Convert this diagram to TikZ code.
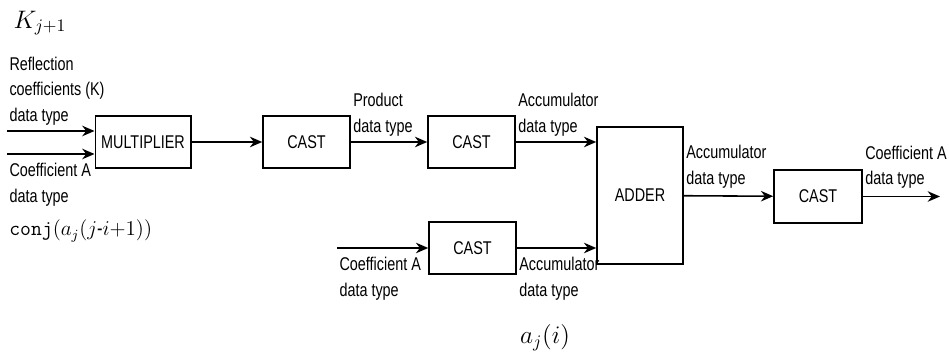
\documentclass[tikz,border=0pt]{standalone}
\usepackage{amsmath}
\usepackage[no-math]{fontspec}
\setmainfont{Liberation Sans}[FakeStretch=0.78]
\usetikzlibrary{arrows.meta}

\begin{document}
\begin{tikzpicture}[
    blk/.style={draw, line width=0.9pt, minimum width=1.74cm, minimum height=1.04cm, font=\fontsize{10.5}{14.5}\selectfont},
    lbl/.style={align=left, inner sep=1pt, font=\fontsize{10.5}{14.5}\selectfont},
    arr/.style={-{Stealth[length=7pt,width=6pt]}, line width=0.9pt}
]
\useasboundingbox (0,0) rectangle (18.98,-7.14);

% blocks
\node[blk, minimum width=1.72cm] (mult) at (2.86,-2.84) {MULTIPLIER};
\node[blk] (cast1) at (6.13,-2.84) {CAST};
\node[blk] (cast2) at (9.43,-2.84) {CAST};
\node[blk] (cast3) at (9.45,-4.96) {CAST};
\node[blk, minimum width=1.72cm, minimum height=2.74cm] (adder) at (12.8,-3.91) {ADDER};
\node[blk, minimum width=1.76cm, minimum height=1.06cm] (cast4) at (16.36,-3.93) {CAST};

% free ends
\coordinate (inK) at (0.14,-2.62);
\coordinate (inA) at (0.14,-3.08);
\coordinate (inC) at (6.74,-4.96);
\coordinate (outA) at (18.8,-3.93);

% math labels
\node[inner sep=0pt, font=\Large] (kj) at (0.8,-0.46) {$K_{j+1}$};
\node[inner sep=0pt, anchor=west, font=\large] (conj) at (0.18,-4.62) {$\mathtt{conj}(a_j(j\mbox{-}i{+}1))$};
\node[inner sep=0pt, font=\Large] (aji) at (10.9,-6.76) {$a_j(i)$};

% connectors
\draw[arr] (inK) -- node[lbl, pos=0, anchor=south west, yshift=2pt] {Reflection\\coefficients (K)\\data type} (inK -| mult.west);
\draw[arr] (inA) -- node[lbl, pos=0, anchor=north west, yshift=-4pt] {Coefficient A\\data type} (inA -| mult.west);
\draw[arr] (mult) -- (cast1);
\draw[arr] (cast1) -- node[lbl, pos=0, anchor=south west, yshift=2pt] {Product\\data type} (cast2);
\draw[arr] (cast2.east) -- node[lbl, pos=0, anchor=south west, yshift=2pt] {Accumulator\\data type} (cast2.east -| adder.west);
\draw[arr] (inC) -- node[lbl, pos=0, anchor=north west, yshift=-4pt] {Coefficient A\\data type} (cast3);
\draw[arr] (cast3.east) -- node[lbl, pos=0, anchor=north west, yshift=-4pt] {Accumulator\\data type} (cast3.east -| adder.west);
\draw[arr] (adder) -- node[lbl, pos=0, anchor=south west, yshift=3pt] {Accumulator\\data type} (cast4);
\draw[arr] (cast4) -- node[lbl, pos=0, anchor=south west, yshift=3pt] {Coefficient A\\data type} (outA);
\end{tikzpicture}
\end{document}
